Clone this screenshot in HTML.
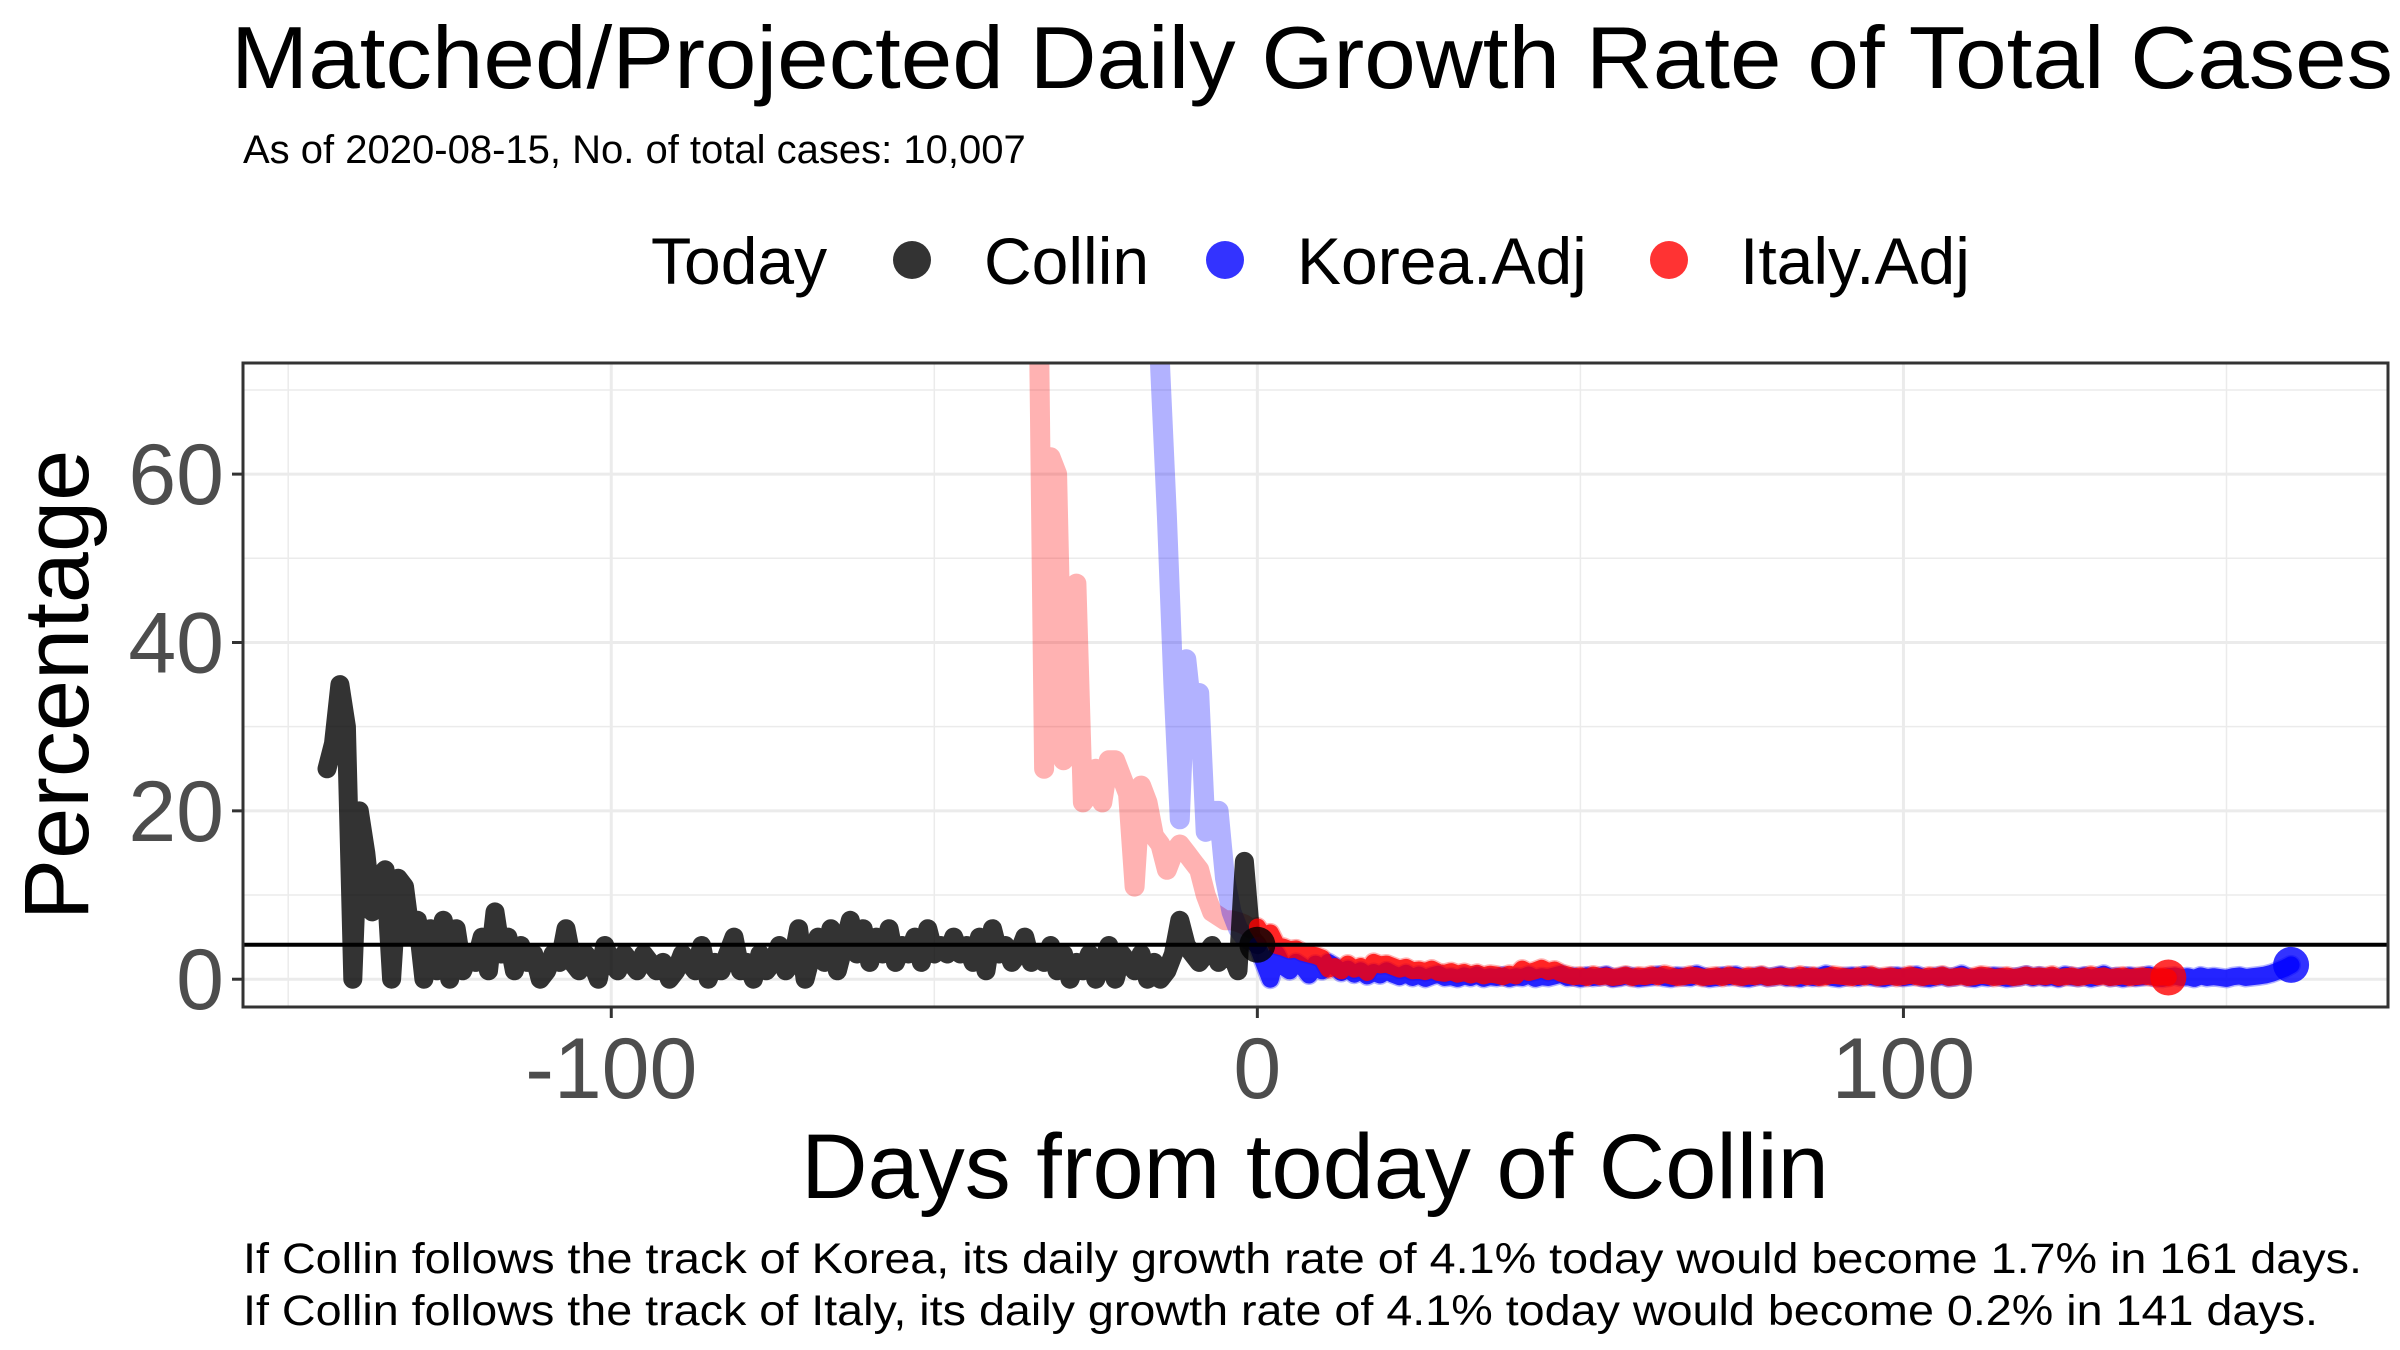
<!DOCTYPE html>
<html><head><meta charset="utf-8"><style>
html,body{margin:0;padding:0;background:#fff;}
svg{display:block;font-family:"Liberation Sans",Arial,sans-serif;}
</style></head><body>
<svg id="chart" width="2400" height="1350" viewBox="0 0 2400 1350" xmlns="http://www.w3.org/2000/svg">
<rect width="2400" height="1350" fill="#fff"/>
<text x="231" y="88" font-size="88" textLength="2162" lengthAdjust="spacingAndGlyphs">Matched/Projected Daily Growth Rate of Total Cases</text>
<text x="243" y="163" font-size="40">As of 2020-08-15, No. of total cases: 10,007</text>
<g font-size="66">
<text x="651" y="284">Today</text>
<circle cx="912" cy="260" r="19" fill="#000" fill-opacity="0.8"/>
<text x="984" y="284">Collin</text>
<circle cx="1225" cy="260" r="19" fill="#0000ff" fill-opacity="0.8"/>
<text x="1297" y="284">Korea.Adj</text>
<circle cx="1669" cy="260" r="19" fill="#ff0000" fill-opacity="0.8"/>
<text x="1740" y="284">Italy.Adj</text>
</g>
<g id="grid"></g>
<g id="marks"></g>
<rect x="243" y="363" width="2145" height="644" fill="none" stroke="#333" stroke-width="3"/>
<g id="axes"></g>
<text transform="translate(88,685) rotate(-90)" text-anchor="middle" font-size="92">Percentage</text>
<text x="1315" y="1198" text-anchor="middle" font-size="92">Days from today of Collin</text>
<text x="243" y="1273" font-size="43" textLength="2119" lengthAdjust="spacingAndGlyphs">If Collin follows the track of Korea, its daily growth rate of 4.1% today would become 1.7% in 161 days.</text>
<text x="243" y="1325" font-size="43" textLength="2075" lengthAdjust="spacingAndGlyphs">If Collin follows the track of Italy, its daily growth rate of 4.1% today would become 0.2% in 141 days.</text>
</svg>
<script>
// ---- data ----
const xTicks = [-100, 0, 100];
const xMinor = [-150, -50, 50, 150];
const yTicks = [0, 20, 40, 60];
const yMinor = [10, 30, 50, 70];
const todayRate = 4.1;
const collinStart = -144;
const collinValues = [25,28,35,30,0,20,15,8,12,13,
0,12,11,5,7,0,6,1,7,0,
6,1,3,2,5,1,8,3,5,1,
4,2,3,0,1,3,2,6,2,1,
3,2,0,4,2,1,3,2,1,3,
2,1,2,0,1,3,2,1,4,0,
2,1,3,5,1,2,0,3,1,2,
4,1,2,6,0,3,5,2,6,1,
4,7,3,6,2,5,3,6,2,4,
3,5,2,6,3,4,3,5,3,4,
2,5,1,6,3,4,2,3,5,2,
3,2,4,1,3,0,2,1,3,0,
2,4,0,3,2,1,3,0,2,0,
1,3,7,4,3,2,3,4,2,3,
3,1,14,5,4.1];
const italyStart = -34;
const italyValues = [90,25,62,60,26,27,47,21,22,25,21,26,26,24,22,11,23,21,17,16,13,15,16,15,14,13,10,8,7.5,7,7,6.8,6.5,6,
6.2,5,5.5,4,3.8,3.5,3.6,3.2,3,2.8,2.5,1.2,1.5,1,1.8,1.2,1.5,0.8,2,1.7,1.8,
1.5,1.2,1.4,1,1.1,0.9,1.2,0.8,0.7,0.9,0.6,0.8,0.5,0.7,0.4,0.6,0.5,0.3,0.6,0.4,
1.2,0.8,1,1.3,0.9,1.1,0.7,0.5,0.3,0.4,0.2,0.5,0.3,0.4,0.2,0.3,0.5,0.2,0.4,0.3,
0.5,0.3,0.6,0.4,0.2,0.3,0.5,0.4,0.2,0.3,0.4,0.2,0.5,0.3,0.2,0.4,0.3,0.5,0.2,0.3,
0.4,0.3,0.2,0.5,0.3,0.4,0.2,0.3,0.5,0.4,0.3,0.2,0.4,0.3,0.5,0.2,0.3,0.4,0.2,0.3,
0.5,0.3,0.2,0.4,0.3,0.5,0.2,0.3,0.4,0.2,0.3,0.5,0.4,0.2,0.3,0.4,0.2,0.3,0.5,0.3,
0.4,0.3,0.5,0.2,0.3,0.4,0.2,0.3,0.5,0.3,0.4,0.2,0.3,0.4,0.2,0.3,0.4,0.3,0.2,0.3,0.2];
const koreaStart = -16;
const koreaValues = [90,72,55,35,19,38,31,34,17.5,20,20,12,8,6,5,4.5,
4,2,0,3,1.5,1,2,1.5,0.5,1.8,1,2,1.5,0.8,1.2,0.6,1,0.4,0.8,0.5,1,
0.6,0.3,0.7,0.2,0.5,0.1,0.4,0.6,0.2,0.3,0.1,0.4,0.2,0.5,0.1,0.3,0.2,0.4,0.1,0.3,
0.2,0.5,0.1,0.3,0.2,0.4,0.6,0.2,0.3,0.1,0.4,0.2,0.3,0.5,0.1,0.2,0.4,0.3,0.1,0.2,
0.3,0.5,0.2,0.1,0.4,0.3,0.2,0.6,0.3,0.1,0.2,0.4,0.3,0.5,0.2,0.1,0.3,0.4,0.2,0.3,
0.5,0.2,0.3,0.1,0.4,0.2,0.3,0.6,0.2,0.1,0.3,0.4,0.2,0.5,0.3,0.2,0.1,0.3,0.4,0.2,
0.3,0.5,0.2,0.1,0.3,0.4,0.2,0.3,0.6,0.2,0.1,0.3,0.2,0.4,0.3,0.1,0.2,0.3,0.5,0.2,
0.4,0.2,0.3,0.1,0.5,0.3,0.2,0.4,0.1,0.3,0.6,0.2,0.3,0.1,0.4,0.2,0.3,0.5,0.2,0.1,0.3,0.4,0.2,
0.3,0.1,0.4,0.2,0.3,0.2,0.1,0.3,0.4,0.2,0.3,0.4,0.5,0.7,1,1.3,1.7];

// ---- scales ----
const PX0 = 243, PX1 = 2388, PY0 = 363, PY1 = 1007;
const X0 = -157, X1 = 175, Y0 = -3.3, Y1 = 73.2;
function sx(d){ return PX0 + (d - X0) / (X1 - X0) * (PX1 - PX0); }
function sy(v){ return PY1 - (v - Y0) / (Y1 - Y0) * (PY1 - PY0); }
const NS = "http://www.w3.org/2000/svg";
function mk(tag, attrs, parent){
  const e = document.createElementNS(NS, tag);
  for (const k in attrs) e.setAttribute(k, attrs[k]);
  parent.appendChild(e); return e;
}
const grid = document.getElementById('grid');
const marks = document.getElementById('marks');
const axes = document.getElementById('axes');

xMinor.forEach(d => {
  const l = mk('line', {x1:sx(d), x2:sx(d), y1:PY0, y2:PY1, stroke:'#ebebeb', 'stroke-width':1.5}, grid);
  
  
});
yMinor.forEach(v => {
  const l = mk('line', {x1:PX0, x2:PX1, y1:sy(v), y2:sy(v), stroke:'#ebebeb', 'stroke-width':1.5}, grid);
  
  
});
xTicks.forEach(d => {
  const l = mk('line', {x1:sx(d), x2:sx(d), y1:PY0, y2:PY1, stroke:'#ebebeb', 'stroke-width':3}, grid);
  
  
  const t = mk('line', {x1:sx(d), x2:sx(d), y1:PY1, y2:PY1+11, stroke:'#333', 'stroke-width':3}, axes);
  
  
  const tx = mk('text', {x:sx(d), y:1098, 'text-anchor':'middle', 'font-size':86, fill:'#4d4d4d'}, axes);
  tx.textContent = d === 0 ? '0' : (d < 0 ? '-' + Math.abs(d) : String(d));
  
  
});
yTicks.forEach(v => {
  const l = mk('line', {x1:PX0, x2:PX1, y1:sy(v), y2:sy(v), stroke:'#ebebeb', 'stroke-width':3}, grid);
  
  
  const t = mk('line', {x1:PX0-11, x2:PX0, y1:sy(v), y2:sy(v), stroke:'#333', 'stroke-width':3}, axes);
  
  
  const tx = mk('text', {x:224, y:sy(v)+30, 'text-anchor':'end', 'font-size':86, fill:'#4d4d4d'}, axes);
  tx.textContent = String(v);
  
  
});

const clip = mk('clipPath', {id:'pclip'}, mk('defs', {}, marks));
mk('rect', {x:PX0, y:PY0, width:PX1-PX0, height:PY1-PY0}, clip);
const plotG = mk('g', {'clip-path':'url(#pclip)'}, marks);

function pathFor(start, vals, from, to){
  let d = '';
  vals.forEach((v, i) => {
    const day = start + i;
    if (day < from || day > to) return;
    d += (d ? 'L' : 'M') + sx(day).toFixed(1) + ',' + sy(v).toFixed(1);
  });
  return d;
}
function line(d, color, op, w, name){
  const p = mk('path', {d:d, fill:'none', stroke:color, 'stroke-opacity':op, 'stroke-width':w, 'stroke-linejoin':'round', 'stroke-linecap':'round'}, plotG);
  
  
}
const italyEnd = italyStart + italyValues.length - 1;
const koreaEnd = koreaStart + koreaValues.length - 1;
line(pathFor(italyStart, italyValues, -999, 999), '#ff0000', 0.3, 20, 'italy-history-line');
line(pathFor(koreaStart, koreaValues, -999, 999), '#0000ff', 0.3, 20, 'korea-history-line');
line(pathFor(collinStart, collinValues, -999, 999), '#000000', 0.8, 19, 'collin-line');
line(pathFor(koreaStart, koreaValues, 0, 999), '#0000ff', 0.8, 17, 'korea-projection-line');
line(pathFor(italyStart, italyValues, 0, 999), '#ff0000', 0.8, 17, 'italy-projection-line');

const hl = mk('line', {x1:PX0, x2:PX1, y1:sy(todayRate), y2:sy(todayRate), stroke:'#000', 'stroke-width':4}, plotG);



const dc = mk('circle', {cx:sx(0), cy:sy(collinValues[collinValues.length-1]), r:18, fill:'#000', 'fill-opacity':0.8}, plotG);


const di = mk('circle', {cx:sx(italyEnd), cy:sy(italyValues[italyValues.length-1]), r:18, fill:'#ff0000', 'fill-opacity':0.8}, plotG);


const dk = mk('circle', {cx:sx(koreaEnd), cy:sy(koreaValues[koreaValues.length-1]), r:18, fill:'#0000ff', 'fill-opacity':0.8}, plotG);


</script>
</body></html>
